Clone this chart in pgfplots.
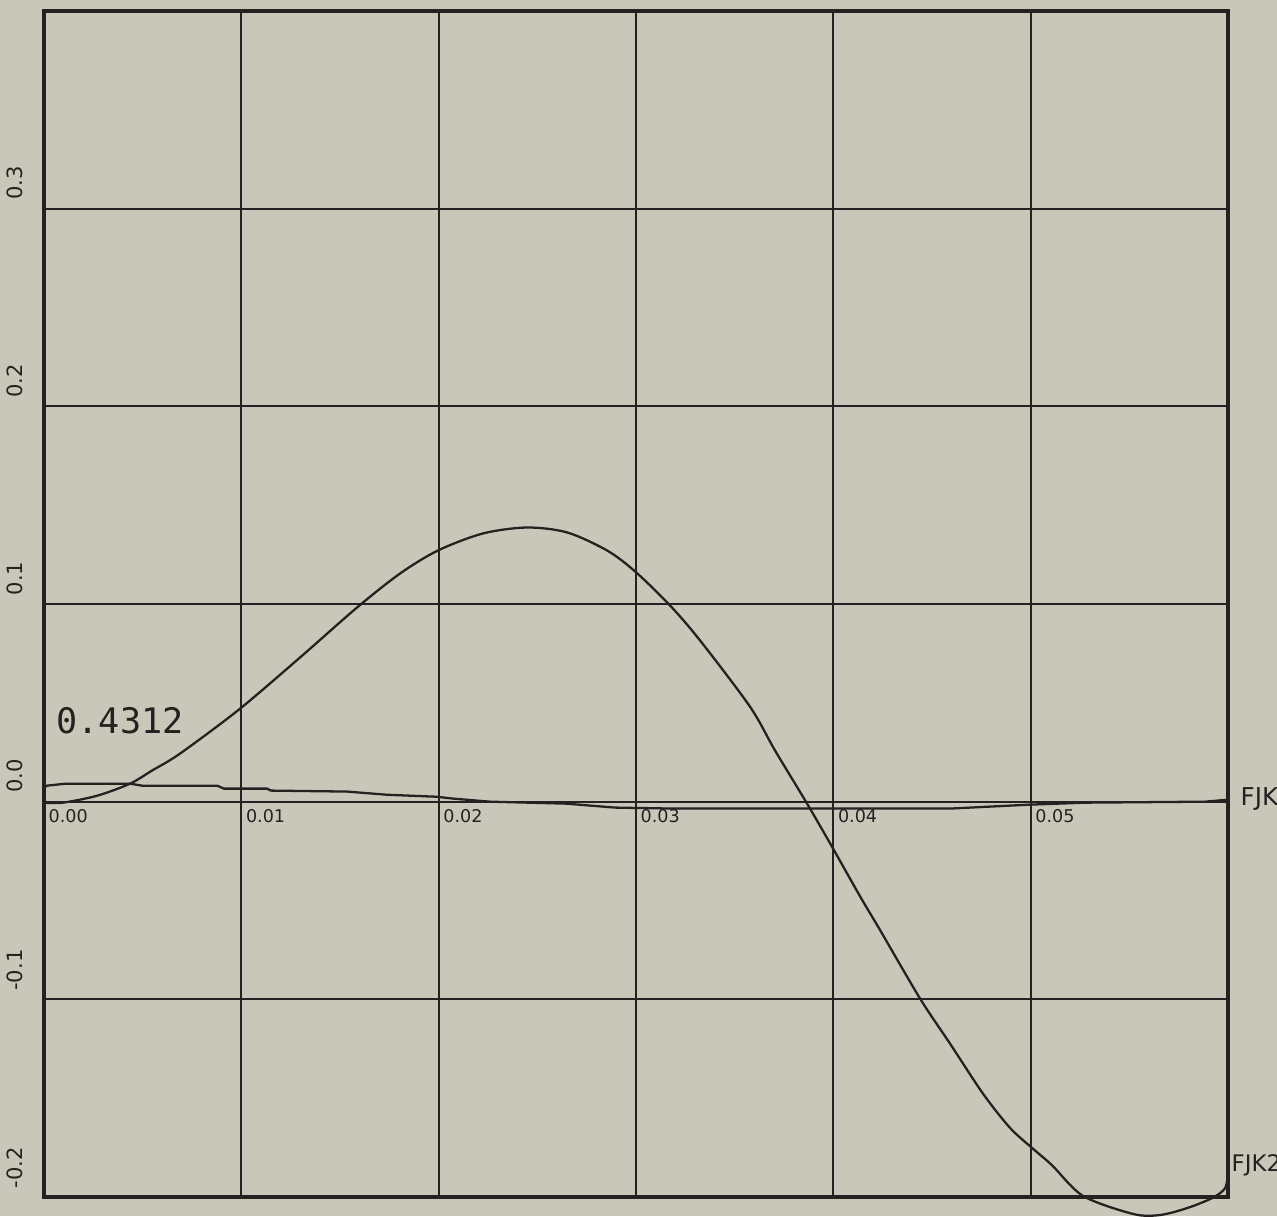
\documentclass[border=0pt]{standalone}
\usepackage{pgfplots}
\pgfplotsset{compat=1.18}
\usepackage{fontspec}
\setmainfont{DejaVu Sans}
\newfontfamily\monofont{DejaVu Sans Mono}
\definecolor{paper}{RGB}{200,200,186}
\definecolor{ink}{RGB}{38,32,32}
\tikzset{ylab/.style={rotate=90, anchor=south west, inner sep=0pt, text=ink, font=\fontsize{6}{7}\selectfont},
         xlab/.style={anchor=north west, inner sep=0pt, text=ink, font=\fontsize{5}{6}\selectfont}}
\begin{document}
\begin{tikzpicture}
\path[use as bounding box, fill=paper] (-0.44cm,-0.19cm) rectangle (12.33cm,11.97cm);
\begin{axis}[
  scale only axis, width=11.84cm, height=11.86cm,
  at={(0,0)}, anchor=south west,
  xmin=0, xmax=0.06, ymin=-0.2, ymax=0.4,
  xtick={0,0.01,0.02,0.03,0.04,0.05,0.06},
  ytick={-0.2,-0.1,0,0.1,0.2,0.3,0.4},
  xticklabels={}, yticklabels={},
  grid=major, major grid style={draw=ink, line width=0.6pt},
  axis line style={draw=ink, line width=0.9pt},
  major tick length=0pt,
  clip=false,
]
\addplot[ink, line width=0.65pt, smooth, tension=0.5] coordinates {
(0,-0.0005) (0.00096,-0.0005) (0.00269,0.003) (0.00436,0.0091) (0.00547,0.0157)
(0.00689,0.0243) (0.00988,0.0466) (0.01297,0.0729) (0.01586,0.0982) (0.01804,0.1154)
(0.01997,0.1271) (0.02225,0.1357) (0.02448,0.1387) (0.02651,0.1362) (0.02853,0.1271)
(0.02995,0.1165) (0.03173,0.0992) (0.03325,0.0815) (0.03578,0.0480) (0.03705,0.0258)
(0.03867,-0.001) (0.03999,-0.0238) (0.04136,-0.0480) (0.04237,-0.0650) (0.0444,-0.0997)
(0.04592,-0.1225) (0.04759,-0.1478) (0.04896,-0.1651) (0.05013,-0.1757) (0.05109,-0.1840)
(0.05266,-0.1995) (0.0552,-0.2086) (0.05656,-0.2091) (0.05793,-0.2056)
(0.0592,-0.2005) (0.05986,-0.1954) (0.06,-0.1868)
};
\addplot[ink, line width=0.65pt] coordinates {
(0,0.007) (0.00015,0.0081) (0.0011,0.0091) (0.00436,0.0091) (0.00497,0.0081)
(0.00877,0.0081) (0.00912,0.0066) (0.0113,0.0066) (0.0115,0.0056) (0.01536,0.0051)
(0.01738,0.0035) (0.01987,0.0025) (0.02078,0.0015) (0.0226,0) (0.02646,-0.001)
(0.02894,-0.003) (0.03188,-0.0035) (0.04592,-0.0035) (0.04997,-0.0015) (0.05281,-0.0005)
(0.05884,0) (0.06,0.001)
};
\node[ylab] at ([xshift=-0.2cm, yshift=0.08cm]axis cs:0,0.3) {0.3};
\node[ylab] at ([xshift=-0.2cm, yshift=0.08cm]axis cs:0,0.2) {0.2};
\node[ylab] at ([xshift=-0.2cm, yshift=0.08cm]axis cs:0,0.1) {0.1};
\node[ylab] at ([xshift=-0.2cm, yshift=0.08cm]axis cs:0,0) {0.0};
\node[ylab] at ([xshift=-0.2cm, yshift=0.08cm]axis cs:0,-0.1) {-0.1};
\node[ylab] at ([xshift=-0.2cm, yshift=0.08cm]axis cs:0,-0.2) {-0.2};
\node[xlab] at ([xshift=0.04cm, yshift=-0.07cm]axis cs:0,0) {0.00};
\node[xlab] at ([xshift=0.04cm, yshift=-0.07cm]axis cs:0.01,0) {0.01};
\node[xlab] at ([xshift=0.04cm, yshift=-0.07cm]axis cs:0.02,0) {0.02};
\node[xlab] at ([xshift=0.04cm, yshift=-0.07cm]axis cs:0.03,0) {0.03};
\node[xlab] at ([xshift=0.04cm, yshift=-0.07cm]axis cs:0.04,0) {0.04};
\node[xlab] at ([xshift=0.04cm, yshift=-0.07cm]axis cs:0.05,0) {0.05};
\node[anchor=west, inner sep=0pt, text=ink, font=\monofont\fontsize{10}{12}\selectfont]
  at (axis cs:0.0006,0.041) {0.4312};
\node[anchor=west, inner sep=0pt, text=ink, font=\fontsize{7}{8}\selectfont]
  at ([xshift=0.12cm, yshift=0.03cm]axis cs:0.06,0) {FJK};
\node[anchor=west, inner sep=0pt, text=ink, font=\fontsize{6.5}{8}\selectfont]
  at ([xshift=0.03cm]axis cs:0.06,-0.184) {FJK2};
\end{axis}
\end{tikzpicture}
\end{document}
